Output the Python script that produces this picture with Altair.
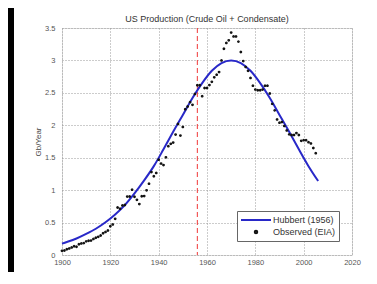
import altair as alt
import pandas as pd

# Hubbert (1956) curve
hubbert_years = [1900, 1902, 1906, 1910, 1914, 1918, 1922, 1926, 1930, 1934, 1938,
                 1942, 1946, 1950, 1954, 1958, 1962, 1966, 1970, 1974, 1978, 1982,
                 1986, 1990, 1994, 1998, 2002, 2006]
hubbert_vals = [0.175, 0.20, 0.255, 0.325, 0.405, 0.505, 0.625, 0.77, 0.95, 1.15, 1.37,
                1.63, 1.90, 2.16, 2.42, 2.65, 2.84, 2.96, 3.00, 2.96, 2.84, 2.65,
                2.42, 2.16, 1.90, 1.63, 1.37, 1.14]

# Observed (EIA), 1900-2005
obs_years = list(range(1900, 2006))
obs_vals = [0.064, 0.069, 0.089, 0.101, 0.117, 0.135, 0.127, 0.166, 0.179, 0.183,
            0.210, 0.220, 0.223, 0.248, 0.266, 0.281, 0.301, 0.335, 0.356, 0.378,
            0.443, 0.472, 0.558, 0.732, 0.714, 0.764, 0.771, 0.901, 0.902, 1.007,
            0.898, 0.851, 0.785, 0.906, 0.908, 0.997, 1.100, 1.279, 1.214, 1.265,
            1.470, 1.410, 1.387, 1.506, 1.678, 1.714, 1.734, 1.857, 2.020, 1.842,
            1.974, 2.248, 2.290, 2.357, 2.315, 2.484, 2.617, 2.617, 2.449, 2.575,
            2.575, 2.620, 2.670, 2.740, 2.780, 2.820, 3.000, 3.180, 3.270, 3.310,
            3.430, 3.370, 3.370, 3.290, 3.130, 2.990, 2.900, 2.840, 2.730, 2.610,
            2.550, 2.540, 2.540, 2.550, 2.610, 2.610, 2.490, 2.330, 2.230, 2.090,
            2.040, 2.050, 1.990, 1.920, 1.860, 1.850, 1.850, 1.880, 1.850, 1.760,
            1.770, 1.770, 1.740, 1.720, 1.650, 1.570]

marker_year = [1956]
x_ticks = [1900, 1920, 1940, 1960, 1980, 2000, 2020]
y_ticks = [0, 0.5, 1, 1.5, 2, 2.5, 3, 3.5]
series_names = ["Hubbert (1956)", "Observed (EIA)"]
series_colors = ["#2828c8", "#111111"]
series_shapes = ["M-3,0L3,0", "M-0.25,0A0.25,0.25 0 1,1 0.25,0A0.25,0.25 0 1,1 -0.25,0Z"]

FONT = "Liberation Sans"

hub_df = pd.DataFrame({"year": hubbert_years, "gb": hubbert_vals})
obs_df = pd.DataFrame({"year": obs_years, "gb": obs_vals, "series": series_names[1]})
mark_df = pd.DataFrame({"year": marker_year})

x_scale = alt.Scale(domain=[1900, 2020], nice=False, zero=False)
y_scale = alt.Scale(domain=[0, 3.5], nice=False)

x_axis = alt.Axis(values=x_ticks, format="d", title=None, grid=True,
                  gridDash=[1, 2], gridColor="#999999", ticks=False, domain=False,
                  labelPadding=3, labelFontSize=7.5, labelFont=FONT, labelColor="#555555",
                  labelOverlap=False, labelFlush=False)
y_axis = alt.Axis(values=y_ticks, format="~g", title="Gb/Year", grid=True,
                  gridDash=[1, 2], gridColor="#999999", ticks=False, domain=False,
                  labelPadding=7, labelFontSize=7.5, labelFont=FONT, labelColor="#555555",
                  labelOverlap=False, labelFlush=False,
                  titleFont=FONT, titleFontSize=8, titleFontWeight="normal",
                  titleColor="#444444", titlePadding=2)

X = alt.X("year:Q", scale=x_scale, axis=x_axis)
Y = alt.Y("gb:Q", scale=y_scale, axis=y_axis)

legend = alt.Legend(title=None, orient="none", legendX=175, legendY=183,
                    symbolSize=100, symbolStrokeWidth=2, symbolOpacity=1,
                    symbolOffset=10, labelOffset=11,
                    labelFontSize=9, labelFont=FONT, labelColor="#333333",
                    padding=3, rowPadding=1,
                    strokeColor="#666666", fillColor="white")

line = alt.Chart(hub_df).mark_line(color=series_colors[0], strokeWidth=2,
                                   interpolate="monotone").encode(x=X, y=Y)

rule = alt.Chart(mark_df).mark_rule(color="#f03838", strokeDash=[5, 3],
                                    strokeWidth=1).encode(x=X)

points = alt.Chart(obs_df).mark_point(filled=False, strokeWidth=1.3, size=36,
                                      opacity=1).encode(
    x=X, y=Y,
    color=alt.Color("series:N", scale=alt.Scale(domain=series_names, range=series_colors),
                    legend=legend),
    shape=alt.Shape("series:N", scale=alt.Scale(domain=series_names, range=series_shapes),
                    legend=legend),
)

strip_df = pd.DataFrame({"k": [0]})
left_strip = alt.Chart(strip_df).mark_rect(color="black", clip=False).encode(
    x=alt.value(-54), x2=alt.value(-48), y=alt.value(-20), y2=alt.value(244))

chart = alt.layer(rule, line, points, left_strip).properties(
    width=290, height=227,
    autosize=alt.AutoSizeParams(type="none"),
    padding={"left": 54, "top": 20, "right": 17, "bottom": 17},
    title=alt.TitleParams("US Production (Crude Oil + Condensate)", fontSize=9,
                          font=FONT, fontWeight="normal", color="#333333",
                          offset=5, dy=21, anchor="middle"),
).configure_view(stroke="#888888", strokeWidth=1).configure(background="white")

chart.save("out.html", embed_options={"renderer": "svg", "actions": False})
